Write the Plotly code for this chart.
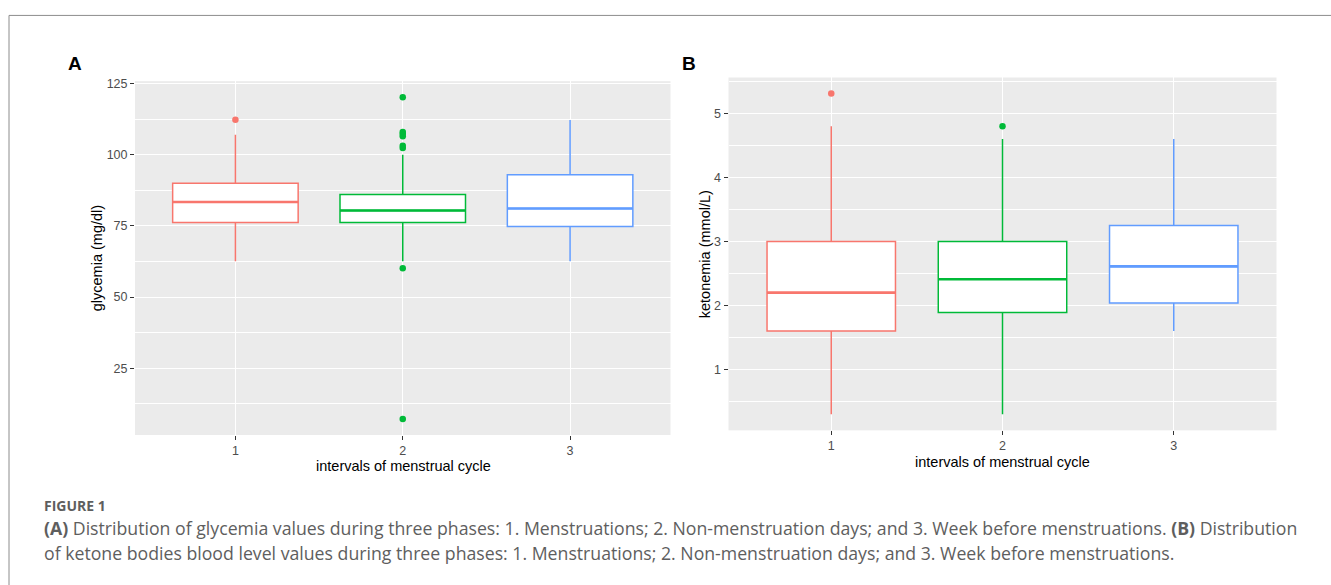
import plotly.graph_objects as go

W, H = 1331, 585

# ---------------- data ----------------
groups = [1, 2, 3]
group_labels = ["1", "2", "3"]
colors = ["#F8766D", "#00BA38", "#619CFF"]

# Panel A : glycemia (mg/dl)
glu_q1 = [76.2, 76.2, 74.8]
glu_med = [83.4, 80.4, 81.1]
glu_q3 = [90.0, 86.0, 93.0]
glu_lo = [62.6, 62.6, 62.6]
glu_hi = [107.0, 100.0, 112.2]
glu_out = [[112.3], [120.2, 108.0, 107.3, 106.5, 103.2, 102.4, 60.1, 7.2], []]
glu_ticks = [25, 50, 75, 100, 125]

# Panel B : ketonemia (mmol/L)
ket_q1 = [1.60, 1.89, 2.04]
ket_med = [2.20, 2.41, 2.61]
ket_q3 = [3.00, 3.00, 3.25]
ket_lo = [0.30, 0.30, 1.60]
ket_hi = [4.80, 4.60, 4.60]
ket_out = [[5.31], [4.80], []]
ket_ticks = [1, 2, 3, 4, 5]

caption_head = "FIGURE 1"
caption_l1 = ("<b>(A)</b> Distribution of glycemia values during three phases: 1. Menstruations; "
              "2. Non-menstruation days; and 3. Week before menstruations. <b>(B)</b> Distribution")
caption_l2 = ("of ketone bodies blood level values during three phases: 1. Menstruations; "
              "2. Non-menstruation days; and 3. Week before menstruations.")

BOXW = 0.75


def px(x):
    return x / W


def py(y):
    return 1 - y / H


fig = go.Figure()


def add_panel(xa, ya, q1, med, q3, lo, hi, outs):
    for i, g in enumerate(groups):
        c = colors[i]
        fig.add_trace(go.Box(
            x=[g], q1=[q1[i]], median=[med[i]], q3=[q3[i]],
            lowerfence=[lo[i]], upperfence=[hi[i]],
            width=BOXW, fillcolor="white", whiskerwidth=0,
            line=dict(color=c, width=1.5), boxpoints=False,
            xaxis=xa, yaxis=ya, hoverinfo="skip", showlegend=False))
        fig.add_trace(go.Scatter(
            x=[g - BOXW / 2, g + BOXW / 2], y=[med[i], med[i]], mode="lines",
            line=dict(color=c, width=2.6), xaxis=xa, yaxis=ya,
            hoverinfo="skip", showlegend=False))
        if outs[i]:
            fig.add_trace(go.Scatter(
                x=[g] * len(outs[i]), y=outs[i], mode="markers",
                marker=dict(color=c, size=6.5), xaxis=xa, yaxis=ya,
                hoverinfo="skip", showlegend=False))


add_panel("x", "y", glu_q1, glu_med, glu_q3, glu_lo, glu_hi, glu_out)
add_panel("x2", "y2", ket_q1, ket_med, ket_q3, ket_lo, ket_hi, ket_out)

tickfont = dict(family="Liberation Sans", size=12.5, color="#4D4D4D")
common_x = dict(range=[0.4, 3.6], tickmode="array", tickvals=groups, ticktext=group_labels,
                showgrid=True, gridcolor="white", gridwidth=1.1, zeroline=False, showline=False,
                ticks="outside", ticklen=4, tickcolor="#333333", tickwidth=1, tickfont=tickfont,
                fixedrange=True)
common_y = dict(showgrid=True, gridcolor="white", gridwidth=1.1, zeroline=False, showline=False,
                ticks="outside", ticklen=4, tickcolor="#333333", tickwidth=1, tickfont=tickfont,
                fixedrange=True)

# data extents (ggplot 5% expansion)
ga = min(min(glu_lo), min(min(o) for o in glu_out if o))
gb = max(max(glu_hi), max(max(o) for o in glu_out if o))
ka = min(min(ket_lo), min(min(o) for o in ket_out if o))
kb = max(max(ket_hi), max(max(o) for o in ket_out if o))

fig.update_layout(
    width=W, height=H, margin=dict(l=0, r=0, t=0, b=0),
    paper_bgcolor="white", plot_bgcolor="#EBEBEB", hovermode=False,
    xaxis=dict(domain=[px(135), px(670.5)], anchor="y", **common_x),
    yaxis=dict(domain=[py(434), py(77.7)], anchor="x",
               range=[ga - 0.05 * (gb - ga), gb + 0.05 * (gb - ga)],
               tickmode="array", tickvals=glu_ticks,
               minor=dict(dtick=12.5, tick0=0, showgrid=True, gridcolor="white", gridwidth=0.6),
               **common_y),
    xaxis2=dict(domain=[px(728.5), px(1276.5)], anchor="y2", **common_x),
    yaxis2=dict(domain=[py(429.3), py(74)], anchor="x2",
                range=[ka - 0.05 * (kb - ka), kb + 0.05 * (kb - ka)],
                tickmode="array", tickvals=ket_ticks,
                minor=dict(dtick=0.5, tick0=0, showgrid=True, gridcolor="white", gridwidth=0.6),
                **common_y),
)

title_font = dict(family="Liberation Sans", size=14.5, color="black")
ann = []
ann.append(dict(text="<b>A</b>", x=px(75), y=py(60), font=dict(family="Liberation Sans", size=19, color="black")))
ann.append(dict(text="<b>B</b>", x=px(689), y=py(60), font=dict(family="Liberation Sans", size=19, color="black")))
ann.append(dict(text="glycemia (mg/dl)", x=px(97), y=py(256), textangle=-90, font=title_font))
ann.append(dict(text="ketonemia (mmol/L)", x=px(705), y=py(252), textangle=-90, font=title_font))
ann.append(dict(text="intervals of menstrual cycle", x=px(403), y=py(465), font=title_font))
ann.append(dict(text="intervals of menstrual cycle", x=px(1002), y=py(461), font=title_font))
for a in ann:
    a.update(xref="paper", yref="paper", showarrow=False, xanchor="center", yanchor="middle")

cap_font = dict(family="Open Sans", size=17.7, color="#5E5E5E")
caps = [
    dict(text="<b>" + caption_head + "</b>", x=px(42), y=py(505),
         font=dict(family="Open Sans", size=14, color="#5E5E5E")),
    dict(text=caption_l1, x=px(42), y=py(528), font=cap_font),
    dict(text=caption_l2, x=px(42), y=py(553), font=cap_font),
]
for a in caps:
    a.update(xref="paper", yref="paper", showarrow=False, xanchor="left", yanchor="middle")

fig.update_layout(annotations=ann + caps)

# outer frame
fig.add_shape(type="rect", xref="paper", yref="paper",
              x0=px(9), y0=py(11.5), x1=1.02, y1=-0.05,
              line=dict(color="#8C8C8C", width=1), fillcolor="rgba(0,0,0,0)", layer="below")

fig.write_html("out.html", config={"displayModeBar": False},
               post_script="document.body.style.margin='0px';")
